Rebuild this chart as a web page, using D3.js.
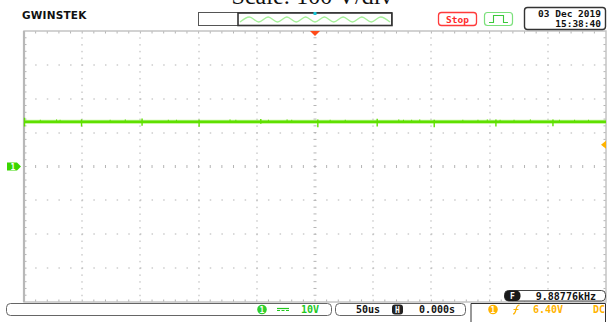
<!DOCTYPE html>
<html>
<head>
<meta charset="utf-8">
<script src="https://cdn.jsdelivr.net/npm/d3@7"></script>
<style>
  html, body { margin: 0; padding: 0; background: #fff; overflow: hidden; }
  svg { display: block; }
  .mono { font-family: "DejaVu Sans Mono", "Liberation Mono", monospace; font-weight: bold; }
</style>
</head>
<body>
<script>
// ---- Scope settings and captured data ----
const titleText = "Scale: 100 V/div";
const timePerDiv = 50;          // us / div
const voltsPerDiv = 10;         // V / div
const hDivs = 10, vDivs = 8, subDivs = 5;
const timeLabel = "50us";
const hPosLabel = "0.000s";
const ch1ScaleLabel = "10V";
const trigLevel = 6.4;          // V
const trigLevelLabel = "6.40V";
const trigCoupling = "DC";
const freqLabel = "9.88776kHz";
const dateLabel = "03 Dec 2019";
const timeOfDay = "15:38:40";

// CH1 trace: flat DC level with short glitches (times in us, levels in V)
const traceLevel = 13.2;
const glitchTimes = [-250, -201, -149, -100, -47, 2, 53, 102, 155, 204];
const glitchLow   = [11.8, 11.8, 12.0, 11.7, 12.6, 11.6, 11.8, 11.6, 11.8, 11.9];
const glitchHigh  = [14.4, 13.9, 14.2, 13.8, 14.0, 13.9, 14.1, 13.8, 13.9, 13.9];
const noiseTimes  = [-236, -222, -219, -176, -163, -126, -119, -73, -68, -40, -24, -20,
                     13, 26, 72, 76, 83, 90, 127, 140, 148, 159, 171, 185, 210, 223, 235];
const noiseHigh   = [13.8, 13.9, 13.8, 13.8, 13.9, 13.8, 13.8, 13.9, 13.8, 13.8, 13.9, 13.8,
                     13.8, 13.8, 13.9, 13.8, 13.8, 13.9, 13.8, 13.8, 13.9, 13.8, 13.8, 13.9, 13.8, 13.8, 13.8];

// ---- Layout ----
const W = 612, H = 322;
const plot = { left: 24, right: 606, top: 31, bottom: 302 };
const x = d3.scaleLinear()
  .domain([-timePerDiv * hDivs / 2, timePerDiv * hDivs / 2])
  .range([plot.left, plot.right]);
const y = d3.scaleLinear()
  .domain([-voltsPerDiv * vDivs / 2, voltsPerDiv * vDivs / 2])
  .range([plot.bottom, plot.top]);

const chColor = "#5fe000";
const chText = "#22c81e";
const trigColor = "#ffb300";
const gridColor = "#b4b4b4";

const svg = d3.select("body").append("svg").attr("width", W).attr("height", H);

// ---- Title (partly above the canvas) ----
svg.append("text")
  .attr("x", 312).attr("y", 4)
  .attr("text-anchor", "middle")
  .style("font-family", "'Liberation Serif', 'Times New Roman', serif")
  .style("font-size", "24px")
  .attr("fill", "#111")
  .text(titleText);

// ---- Graticule ----
const grid = svg.append("g");
const tMajor = d3.range(1, hDivs).map(i => x.domain()[0] + i * timePerDiv);
const vMajor = d3.range(1, vDivs).map(i => y.domain()[0] + i * voltsPerDiv);
const tSub = d3.range(0, hDivs * subDivs + 1).map(i => x.domain()[0] + i * timePerDiv / subDivs);
const vSub = d3.range(0, vDivs * subDivs + 1).map(i => y.domain()[0] + i * voltsPerDiv / subDivs);

// dotted vertical lines
tMajor.filter(t => t !== 0).forEach(t => {
  grid.selectAll(null).data(vSub.slice(1, -1)).enter().append("rect")
    .attr("x", Math.round(x(t)) - 0.5).attr("y", v => y(v) - 0.5)
    .attr("width", 1).attr("height", 1.5).attr("fill", gridColor);
});
// dotted horizontal lines
vMajor.filter(v => v !== 0).forEach(v => {
  grid.selectAll(null).data(tSub.slice(1, -1)).enter().append("rect")
    .attr("x", t => x(t) - 0.5).attr("y", Math.round(y(v)) - 0.5)
    .attr("width", 1.5).attr("height", 1).attr("fill", gridColor);
});
// centre cross with tick marks
grid.selectAll(null).data(vSub.slice(1, -1)).enter().append("line")
  .attr("x1", x(0) - 1.5).attr("x2", x(0) + 1.5)
  .attr("y1", v => y(v)).attr("y2", v => y(v))
  .attr("stroke", gridColor).attr("stroke-width", 1);
grid.selectAll(null).data(tSub.slice(1, -1)).enter().append("line")
  .attr("x1", t => x(t)).attr("x2", t => x(t))
  .attr("y1", y(0) - 1.5).attr("y2", y(0) + 1.5)
  .attr("stroke", gridColor).attr("stroke-width", 1);
// border ticks
grid.selectAll(null).data(tSub.slice(1, -1)).enter().append("line")
  .attr("x1", t => x(t)).attr("x2", t => x(t))
  .attr("y1", plot.top).attr("y2", plot.top + 2.5)
  .attr("stroke", gridColor).attr("stroke-width", 1);
grid.selectAll(null).data(tSub.slice(1, -1)).enter().append("line")
  .attr("x1", t => x(t)).attr("x2", t => x(t))
  .attr("y1", plot.bottom).attr("y2", plot.bottom - 2.5)
  .attr("stroke", gridColor).attr("stroke-width", 1);
grid.selectAll(null).data(vSub.slice(1, -1)).enter().append("line")
  .attr("x1", plot.left).attr("x2", plot.left + 2.5)
  .attr("y1", v => y(v)).attr("y2", v => y(v))
  .attr("stroke", gridColor).attr("stroke-width", 1);
grid.selectAll(null).data(vSub.slice(1, -1)).enter().append("line")
  .attr("x1", plot.right).attr("x2", plot.right - 2.5)
  .attr("y1", v => y(v)).attr("y2", v => y(v))
  .attr("stroke", gridColor).attr("stroke-width", 1);
// border
grid.append("rect")
  .attr("x", plot.left).attr("y", plot.top)
  .attr("width", plot.right - plot.left).attr("height", plot.bottom - plot.top)
  .attr("fill", "none").attr("stroke", "#c4c4c4").attr("stroke-width", 1.5);
grid.append("line")
  .attr("x1", plot.left).attr("x2", plot.left)
  .attr("y1", plot.top).attr("y2", plot.bottom)
  .attr("stroke", "#b8b8b8").attr("stroke-width", 2.2);

// ---- CH1 trace ----
const trace = svg.append("g");
trace.append("line")
  .attr("x1", x(x.domain()[0])).attr("x2", x(x.domain()[1]))
  .attr("y1", y(traceLevel)).attr("y2", y(traceLevel))
  .attr("stroke", "#9cf25a").attr("stroke-width", 4.2).attr("opacity", 0.55);
trace.append("line")
  .attr("x1", x(x.domain()[0])).attr("x2", x(x.domain()[1]))
  .attr("y1", y(traceLevel)).attr("y2", y(traceLevel))
  .attr("stroke", chColor).attr("stroke-width", 2.6);
trace.selectAll(null).data(noiseTimes).enter().append("line")
  .attr("x1", t => x(t)).attr("x2", t => x(t))
  .attr("y1", (t, i) => y(noiseHigh[i])).attr("y2", y(traceLevel))
  .attr("stroke", chColor).attr("stroke-width", 1);
trace.selectAll(null).data(glitchTimes).enter().append("line")
  .attr("x1", t => x(t) + 0.5).attr("x2", t => x(t) + 0.5)
  .attr("y1", (t, i) => y(glitchHigh[i])).attr("y2", (t, i) => y(glitchLow[i]))
  .attr("stroke", chColor).attr("stroke-width", 1.4);

// ---- Markers ----
// trigger position
svg.append("path")
  .attr("d", `M${x(0) - 5},${plot.top} L${x(0) + 5},${plot.top} L${x(0)},${plot.top + 5} Z`)
  .attr("fill", "#ff4a1a");
// CH1 ground marker
svg.append("path")
  .attr("d", `M7,${y(0) - 4} h10 l4,4 l-4,4 h-10 Z`)
  .attr("fill", "#3ad600");
svg.append("text").attr("class", "mono")
  .attr("x", 13).attr("y", y(0) + 3).attr("text-anchor", "middle")
  .style("font-size", "8px").attr("fill", "#fff").text("1");
// trigger level marker
svg.append("path")
  .attr("d", `M${plot.right},${y(trigLevel) - 4} L${plot.right - 5},${y(trigLevel)} L${plot.right},${y(trigLevel) + 4} Z`)
  .attr("fill", trigColor);

// ---- Header ----
svg.append("text")
  .attr("x", 22).attr("y", 19)
  .style("font-family", "'DejaVu Sans', sans-serif").style("font-weight", "bold")
  .style("font-size", "10.5px").style("letter-spacing", "0.2px")
  .attr("fill", "#111").text("GWINSTEK");

// memory bar with waveform thumbnail
svg.append("rect").attr("x", 198.5).attr("y", 12.5).attr("width", 193).attr("height", 13)
  .attr("fill", "#fff").attr("stroke", "#555").attr("stroke-width", 1);
const thumbCycles = 8, thumbX0 = 240, thumbX1 = 390;
const thumbPts = d3.range(0, thumbCycles * 2 + 1).map(i =>
  [thumbX0 + i * (thumbX1 - thumbX0) / (thumbCycles * 2), i % 2 === 0 ? 22 : 17]);
svg.append("path")
  .attr("d", d3.line().curve(d3.curveMonotoneX)(thumbPts))
  .attr("fill", "none").attr("stroke", "#a6f09a").attr("stroke-width", 1.4);
svg.append("rect").attr("x", 238).attr("y", 13).attr("width", 154).attr("height", 12.5)
  .attr("fill", "none").attr("stroke", "#333").attr("stroke-width", 1.6);
svg.append("rect").attr("x", 313.5).attr("y", 12).attr("width", 3).attr("height", 3)
  .attr("fill", "#18c8d8");

// Stop
svg.append("rect").attr("x", 438.5).attr("y", 12.5).attr("width", 38).attr("height", 13).attr("rx", 3)
  .attr("fill", "#fff").attr("stroke", "#ff3a3a").attr("stroke-width", 1.3);
svg.append("text").attr("class", "mono").attr("x", 457.5).attr("y", 22.5).attr("text-anchor", "middle")
  .style("font-size", "9.5px").attr("fill", "#ff2a2a").text("Stop");

// trigger mode icon
svg.append("rect").attr("x", 484.5).attr("y", 12.5).attr("width", 28).attr("height", 13).attr("rx", 3)
  .attr("fill", "#fff").attr("stroke", "#7be07b").attr("stroke-width", 1.2);
svg.append("path").attr("d", "M489,22.5 H493.5 V15.5 H503.5 V22.5 H508")
  .attr("fill", "none").attr("stroke", "#3cc83c").attr("stroke-width", 1.1);

// date / time
svg.append("rect").attr("x", 524.5).attr("y", 7.5).attr("width", 81).attr("height", 22).attr("rx", 3)
  .attr("fill", "#fff").attr("stroke", "#333").attr("stroke-width", 1.4);
svg.append("text").attr("class", "mono").attr("x", 601).attr("y", 17).attr("text-anchor", "end")
  .style("font-size", "9.5px").attr("fill", "#111").text(dateLabel);
svg.append("text").attr("class", "mono").attr("x", 601).attr("y", 26.5).attr("text-anchor", "end")
  .style("font-size", "9.5px").attr("fill", "#111").text(timeOfDay);

// ---- Bottom status bar ----
// CH1 panel
svg.append("rect").attr("x", 6.5).attr("y", 303.5).attr("width", 325).attr("height", 12).attr("rx", 4)
  .attr("fill", "#fff").attr("stroke", "#666").attr("stroke-width", 1);
svg.append("circle").attr("cx", 262).attr("cy", 309.5).attr("r", 4.8).attr("fill", "#2ed02e");
svg.append("text").attr("class", "mono").attr("x", 262).attr("y", 312.5).attr("text-anchor", "middle")
  .style("font-size", "8px").attr("fill", "#fff").text("1");
svg.append("line").attr("x1", 277).attr("x2", 289).attr("y1", 308.5).attr("y2", 308.5)
  .attr("stroke", chText).attr("stroke-width", 1.2);
svg.append("line").attr("x1", 277).attr("x2", 289).attr("y1", 310.5).attr("y2", 310.5)
  .attr("stroke", chText).attr("stroke-width", 1.2).attr("stroke-dasharray", "3,1.5");
svg.append("text").attr("class", "mono").attr("x", 319).attr("y", 313).attr("text-anchor", "end")
  .style("font-size", "10px").attr("fill", chText).text(ch1ScaleLabel);

// horizontal panel
svg.append("rect").attr("x", 335.5).attr("y", 303.5).attr("width", 130).attr("height", 12).attr("rx", 4)
  .attr("fill", "#fff").attr("stroke", "#666").attr("stroke-width", 1);
svg.append("text").attr("class", "mono").attr("x", 356).attr("y", 313)
  .style("font-size", "10px").attr("fill", "#111").text(timeLabel);
svg.append("rect").attr("x", 392).attr("y", 304.5).attr("width", 11).attr("height", 10).attr("rx", 3)
  .attr("fill", "#222");
svg.append("text").attr("class", "mono").attr("x", 397.5).attr("y", 312.5).attr("text-anchor", "middle")
  .style("font-size", "8px").attr("fill", "#fff").text("H");
svg.append("text").attr("class", "mono").attr("x", 455).attr("y", 313).attr("text-anchor", "end")
  .style("font-size", "10px").attr("fill", "#111").text(hPosLabel);

// frequency readout
svg.append("rect").attr("x", 504.5).attr("y", 290.5).attr("width", 101).attr("height", 10.5).attr("rx", 4)
  .attr("fill", "#fff").attr("stroke", "#444").attr("stroke-width", 1);
svg.append("rect").attr("x", 504.5).attr("y", 290.5).attr("width", 16).attr("height", 10.5).attr("rx", 4.5)
  .attr("fill", "#1a1a1a");
svg.append("text").attr("class", "mono").attr("x", 512.5).attr("y", 298.8).attr("text-anchor", "middle")
  .style("font-size", "8px").attr("fill", "#fff").text("F");
svg.append("text").attr("class", "mono").attr("x", 596).attr("y", 299.5).attr("text-anchor", "end")
  .style("font-size", "10px").attr("fill", "#111").text(freqLabel);

// trigger panel
svg.append("path").attr("d", "M471,322 V303.5 H605.5 V322")
  .attr("fill", "none").attr("stroke", "#333").attr("stroke-width", 1);
svg.append("circle").attr("cx", 493).attr("cy", 309.5).attr("r", 4.8).attr("fill", trigColor);
svg.append("text").attr("class", "mono").attr("x", 493).attr("y", 312.5).attr("text-anchor", "middle")
  .style("font-size", "8px").attr("fill", "#fff").text("1");
svg.append("path").attr("d", "M513,314 Q515,314 516,309.5 Q517,305 519.5,305 M513.5,309.5 H518.5")
  .attr("fill", "none").attr("stroke", trigColor).attr("stroke-width", 1.2);
svg.append("text").attr("class", "mono").attr("x", 533).attr("y", 313)
  .style("font-size", "10px").attr("fill", trigColor).text(trigLevelLabel);
svg.append("text").attr("class", "mono").attr("x", 605).attr("y", 313).attr("text-anchor", "end")
  .style("font-size", "10px").attr("fill", trigColor).text(trigCoupling);
</script>
</body>
</html>
